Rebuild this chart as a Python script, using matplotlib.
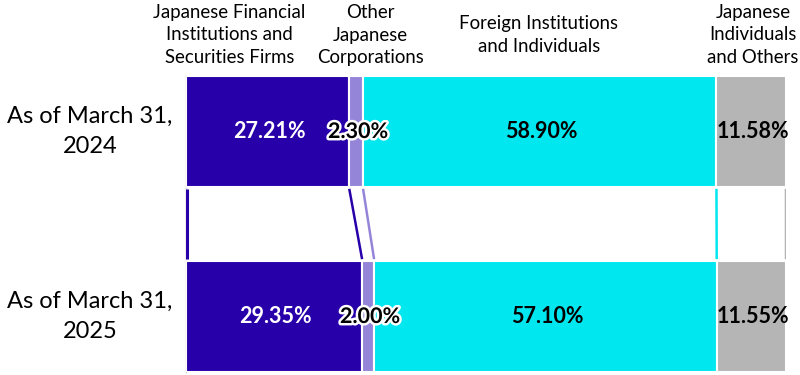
import matplotlib
import matplotlib.pyplot as plt
import matplotlib.patheffects as pe
from matplotlib.transforms import blended_transform_factory

matplotlib.use('agg')

plt.rcParams['font.family'] = ['Lato', 'DejaVu Sans']

categories = ['As of March 31,\n2024', 'As of March 31,\n2025']
series_names = ['Japanese Financial\nInstitutions and\nSecurities Firms',
                'Other\nJapanese\nCorporations',
                'Foreign Institutions\nand Individuals',
                'Japanese\nIndividuals\nand Others']
values_2024 = [27.21, 2.30, 58.90, 11.58]
values_2025 = [29.35, 2.00, 57.10, 11.55]

colors = ['#2800aa', '#9585d9', '#00e7ef', '#b5b5b5']
label_colors = ['white', 'black', 'black', 'black']
# where the column headers sit (data x units)
header_x = [7.2, 30.8, 58.8, 94.5]

fig = plt.figure(figsize=(8, 3.75), dpi=100)
ax = fig.add_axes([186/800, 1-372/375, 600/800, 296/375])

rows = [values_2024, values_2025]
bar_h = 0.6
for yi, vals in enumerate(rows):
    left = 0
    for i, v in enumerate(vals):
        ax.barh(yi, v, left=left, height=bar_h, color=colors[i],
                edgecolor='white', linewidth=1.5)
        txt = ax.text(left + v/2 + 0.3, yi, f"{v:.2f}%", ha='center', va='center',
                      fontsize=15.5, fontweight='bold', color=label_colors[i])
        if v < 5:
            txt.set_path_effects([pe.withStroke(linewidth=3.5, foreground='white')])
        left += v

# connector lines between the two bars
y0 = bar_h/2 + 0.01
y1 = 1 - bar_h/2 - 0.01
ax.plot([0.15, 0.15], [y0, y1], color=colors[0], lw=2.2, solid_capstyle='butt',
        zorder=5, clip_on=False)
c0 = 0
c1 = 0
for i in range(len(values_2024)):
    c0 += values_2024[i]
    c1 += values_2025[i]
    ax.plot([c0, c1], [y0, y1], color=colors[i], lw=1.8, solid_capstyle='butt')

ax.set_xlim(0, 100)
ax.set_ylim(1 + bar_h/2, -bar_h/2)
ax.set_xticks([])
ax.set_yticks([])
for s in ['top', 'right', 'bottom']:
    ax.spines[s].set_visible(False)
ax.spines['left'].set_color('#d0d0d0')
ax.spines['left'].set_linewidth(1)
ax.spines['left'].set_zorder(0.5)

trans = blended_transform_factory(ax.transAxes, ax.transData)
for yi, cat in enumerate(categories):
    ax.text(-96/600, yi, cat, transform=trans, ha='center', va='center',
            fontsize=17, linespacing=1.5, color='black')

for hx, name in zip(header_x, series_names):
    fig.text(ax.transData.transform((hx, 0))[0]/800, 1-35/375, name,
             ha='center', va='center', fontsize=13.4, linespacing=1.42,
             color='black')

fig.savefig('out.png', dpi=100)
